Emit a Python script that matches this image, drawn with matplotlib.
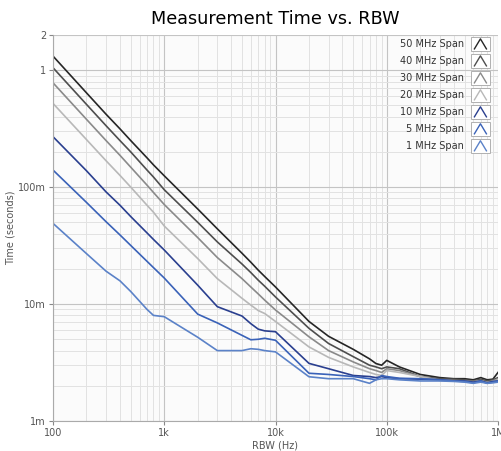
import numpy as np
import matplotlib
matplotlib.use('Agg')
from matplotlib import pyplot as plt
from matplotlib.ticker import FixedLocator, FixedFormatter, LogLocator, NullFormatter

# RBW sample points (Hz)
rbw = [100, 200, 300, 400, 500, 700, 800, 1e3, 2e3, 3e3, 5e3, 6e3, 7e3, 8e3, 1e4,
       2e4, 3e4, 5e4, 7e4, 8e4, 9e4, 1e5, 1.3e5, 2e5, 3e5, 4e5, 5e5, 6e5, 7e5, 8e5, 9e5, 1e6]

t50 = [1.32, 0.64, 0.42, 0.315, 0.25, 0.178, 0.155, 0.125, 0.065, 0.044, 0.0272, 0.0228, 0.0195, 0.0172, 0.014,
       0.0071, 0.0053, 0.0041, 0.0034, 0.0031, 0.0030, 0.0033, 0.0029, 0.0025, 0.00235, 0.0023, 0.0023, 0.00225, 0.00235, 0.00225, 0.00228, 0.0026]
t40 = [1.05, 0.51, 0.335, 0.25, 0.20, 0.14, 0.122, 0.095, 0.050, 0.034, 0.022, 0.0186, 0.016, 0.0142, 0.0115,
       0.0062, 0.0046, 0.00355, 0.0030, 0.0029, 0.0028, 0.0029, 0.0028, 0.0024, 0.0023, 0.00228, 0.00225, 0.0022, 0.00228, 0.0022, 0.00225, 0.00235]
t30 = [0.78, 0.38, 0.25, 0.187, 0.148, 0.104, 0.09, 0.071, 0.037, 0.025, 0.0165, 0.014, 0.0122, 0.0108, 0.0089,
       0.00525, 0.0040, 0.0032, 0.0028, 0.0027, 0.0026, 0.0028, 0.0027, 0.0024, 0.00225, 0.00222, 0.0022, 0.00218, 0.00222, 0.00215, 0.0022, 0.0023]
t20 = [0.52, 0.255, 0.168, 0.126, 0.10, 0.07, 0.061, 0.0465, 0.0245, 0.0165, 0.0112, 0.0098, 0.0088, 0.0083, 0.0071,
       0.0043, 0.0035, 0.0029, 0.0026, 0.0025, 0.00245, 0.0027, 0.0026, 0.0024, 0.00222, 0.0022, 0.00218, 0.00215, 0.0022, 0.00212, 0.00218, 0.00225]
t10 = [0.27, 0.138, 0.091, 0.07, 0.056, 0.0406, 0.0357, 0.029, 0.0145, 0.0095, 0.0079, 0.0068, 0.0061, 0.0059, 0.0058,
       0.00311, 0.0028, 0.00245, 0.0024, 0.00235, 0.0024, 0.00235, 0.0023, 0.00228, 0.00225, 0.0022, 0.0022, 0.00215, 0.0022, 0.00212, 0.00218, 0.0022]
t5 = [0.14, 0.074, 0.0506, 0.039, 0.0317, 0.0232, 0.0205, 0.0167, 0.0082, 0.0069, 0.0054, 0.00495, 0.0050, 0.0051, 0.0049,
      0.00256, 0.0025, 0.0024, 0.0023, 0.00225, 0.00245, 0.0024, 0.00232, 0.0023, 0.00225, 0.0022, 0.00218, 0.00212, 0.0022, 0.0021, 0.00215, 0.0022]
t1 = [0.049, 0.027, 0.0191, 0.0158, 0.0128, 0.009, 0.0080, 0.0078, 0.0052, 0.0040, 0.0040, 0.00415, 0.0041, 0.0040, 0.0039,
      0.00239, 0.0023, 0.0023, 0.0021, 0.00225, 0.0023, 0.0023, 0.00225, 0.0022, 0.0022, 0.00218, 0.00215, 0.0021, 0.00215, 0.0021, 0.00212, 0.00215]

spans = ['50 MHz Span', '40 MHz Span', '30 MHz Span', '20 MHz Span', '10 MHz Span', '5 MHz Span', '1 MHz Span']
series = [t50, t40, t30, t20, t10, t5, t1]
colors = ['#262626', '#4e4e4e', '#8a8a8a', '#b8b8b8', '#2a3f8f', '#3a62b8', '#5b82c8']

fig = plt.figure(figsize=(5.01, 4.51), dpi=100)
ax = fig.add_axes([53/501, 30/451, 445/501, 386/451])
ax.set_facecolor('#fbfbfb')

for vals, c in zip(series, colors):
    ax.plot(rbw, vals, color=c, lw=1.2)

ax.set_xscale('log')
ax.set_yscale('log')
ax.set_xlim(100, 1e6)
ax.set_ylim(1e-3, 2)

ax.xaxis.set_major_locator(FixedLocator([1e2, 1e3, 1e4, 1e5, 1e6]))
ax.xaxis.set_major_formatter(FixedFormatter(['100', '1k', '10k', '100k', '1M']))
ax.yaxis.set_major_locator(FixedLocator([1e-3, 1e-2, 1e-1, 1, 2]))
ax.yaxis.set_major_formatter(FixedFormatter(['1m', '10m', '100m', '1', '2']))
ax.xaxis.set_minor_locator(LogLocator(base=10, subs=np.arange(2, 10)))
ax.yaxis.set_minor_locator(LogLocator(base=10, subs=np.arange(2, 10)))
ax.xaxis.set_minor_formatter(NullFormatter())
ax.yaxis.set_minor_formatter(NullFormatter())

ax.grid(which='major', color='#c4c4c4', lw=0.8)
ax.grid(which='minor', color='#e2e2e2', lw=0.7)
ax.set_axisbelow(True)
ax.tick_params(which='minor', length=0)
ax.tick_params(which='major', length=3, color='#888888', labelsize=7, labelcolor='#555555', pad=2)
for s in ['top', 'right']:
    ax.spines[s].set_visible(False)
for s in ['left', 'bottom']:
    ax.spines[s].set_color('#aaaaaa')

ax.set_title('Measurement Time vs. RBW', fontsize=12.7, pad=8)
ax.set_xlabel('RBW (Hz)', fontsize=7, color='#555555', labelpad=2)
ax.set_ylabel('Time (seconds)', fontsize=7, color='#555555', labelpad=2)

# LabVIEW style legend on the top right
for i, (name, c) in enumerate(zip(spans, colors)):
    yy = 0.977 - i * 0.044
    ax.text(0.9236, yy, name, transform=ax.transAxes, fontsize=7, color='#333333',
            ha='right', va='center')
    box = plt.Rectangle((0.9387, yy - 0.018), 0.0434, 0.036, transform=ax.transAxes,
                        facecolor='white', edgecolor='#b0b0b0', lw=0.7, zorder=5)
    ax.add_patch(box)
    ax.plot([0.947, 0.9605, 0.974], [yy - 0.013, yy + 0.013, yy - 0.013], color=c, lw=1.0,
            transform=ax.transAxes, zorder=6, clip_on=False)

fig.savefig('out.png', dpi=100, facecolor='white')
